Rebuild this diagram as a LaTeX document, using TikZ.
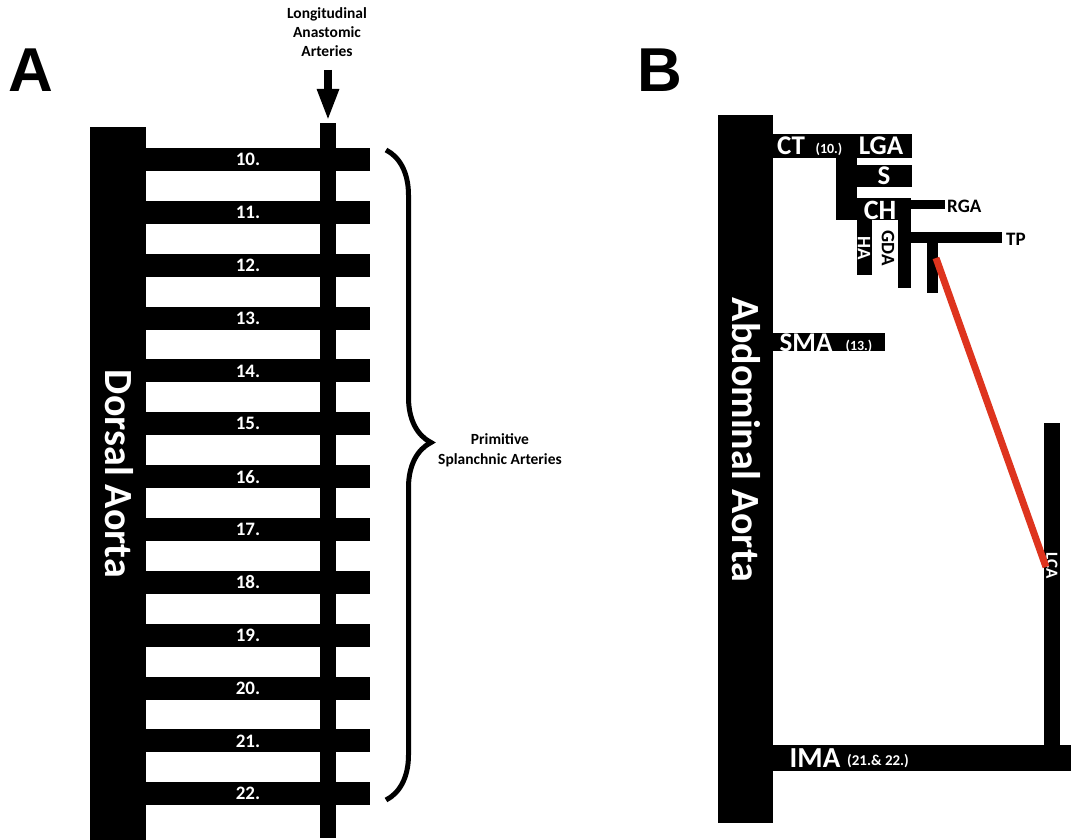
\documentclass[tikz,border=0pt]{standalone}
\usepackage{fontspec}
\setmainfont{Carlito}
\setsansfont{Liberation Sans}
\usetikzlibrary{decorations.pathreplacing,arrows.meta}

\definecolor{lcared}{RGB}{222,52,30}

\newcommand{\fsz}[1]{\bfseries\fontsize{#1}{#1}\selectfont}

\begin{document}
\begin{tikzpicture}[x=1pt,y=-1pt,
  vessel/.style={fill=black},
  inlbl/.style={text=white,inner sep=0pt},
  outlbl/.style={text=black,inner sep=0pt}]

\useasboundingbox (0,0) rectangle (1071,840);

\def\sp{52.85}

% Panel letters
\node[font=\sffamily\fsz{62}] (lblA) at (31,70) {A};
\node[font=\sffamily\fsz{62}] (lblB) at (660,70) {B};

% Dorsal aorta
\fill[vessel] (90,127) rectangle (146,840);
\node[inlbl,rotate=-90,font=\fsz{40}] (da) at (119,474) {Dorsal Aorta};

% Primitive splanchnic arteries
\foreach \n [count=\i from 0] in {10,...,22} {
  \fill[vessel] (146,148+\i*\sp) rectangle (370,171+\i*\sp);
  \node[inlbl,font=\fsz{19}] (sa\n) at (248,159.5+\i*\sp) {\n.};
}

% Longitudinal anastomotic artery
\fill[vessel] (320,123) rectangle (336,838);
\node[outlbl,align=center,font=\bfseries\fontsize{15.5}{19}\selectfont] (latlbl) at (327,32)
  {Longitudinal\\Anastomic\\Arteries};
\coordinate (latop) at (328,70);
\coordinate (lat) at (328,121);
\draw[line width=8pt,-{Triangle[width=20pt,length=32pt]}] (latop) -- (lat);

% Brace
\draw[line width=5pt,decorate,decoration={brace,amplitude=45pt,aspect=0.45}]
  (386,150) -- (386,800);
\node[outlbl,align=center,font=\bfseries\fontsize{15.5}{20}\selectfont] (psa) at (500,450)
  {Primitive\\Splanchnic Arteries};

% Abdominal aorta
\fill[vessel] (718,115) rectangle (773,823);
\node[inlbl,rotate=-90,font=\fsz{40}] (aa) at (746,440) {Abdominal Aorta};

% Coeliac trunk
\fill[vessel] (773,134) rectangle (912,158);
\fill[vessel] (836,134) rectangle (857,220);
\fill[vessel] (857,165) rectangle (912,187);
\fill[vessel] (857,198) rectangle (899,220);
\fill[vessel] (857,220) rectangle (872,275);
\fill[vessel] (898,198) rectangle (911,288);
\fill[vessel] (911,200) rectangle (945,209);
\fill[vessel] (911,232) rectangle (1002,243);
\fill[vessel] (927,243) rectangle (938,293);

\node[inlbl,font=\fsz{27}] (ct) at (791,146) {CT};
\node[inlbl,font=\fsz{14}] (ctn) at (829,149) {(10.)};
\node[inlbl,font=\fsz{27}] (lga) at (881,146) {LGA};
\node[inlbl,font=\fsz{27}] (s) at (884,176) {S};
\node[inlbl,font=\fsz{28}] (ch) at (880,210) {CH};
\node[inlbl,rotate=-90,font=\fsz{19}] (ha) at (864,248) {HA};
\node[outlbl,rotate=-90,font=\fsz{19}] (gda) at (888,248) {GDA};
\node[outlbl,anchor=west,font=\fsz{19}] (rga) at (947,206) {RGA};
\node[outlbl,anchor=west,font=\fsz{19}] (tp) at (1006,239) {TP};

% Superior mesenteric artery
\fill[vessel] (773,333) rectangle (885,351);
\node[inlbl,font=\fsz{27}] (sma) at (806,343) {SMA};
\node[inlbl,font=\fsz{14}] (sman) at (859,346) {(13.)};

% Inferior mesenteric artery
\fill[vessel] (773,745) rectangle (1071,771);
\fill[vessel] (1044,423) rectangle (1060,771);
\node[inlbl,font=\fsz{29}] (ima) at (815,758) {IMA};
\node[inlbl,font=\fsz{15}] (iman) at (878,761) {(21.\& 22.)};
\node[inlbl,rotate=-90,font=\fsz{17}] (lca) at (1052,566) {LCA};

% Anastomosis
\coordinate (tpend) at (936,258);
\coordinate (lcaend) at (1046,567);
\draw[lcared,line width=7pt] (tpend) -- (lcaend);

\end{tikzpicture}
\end{document}
